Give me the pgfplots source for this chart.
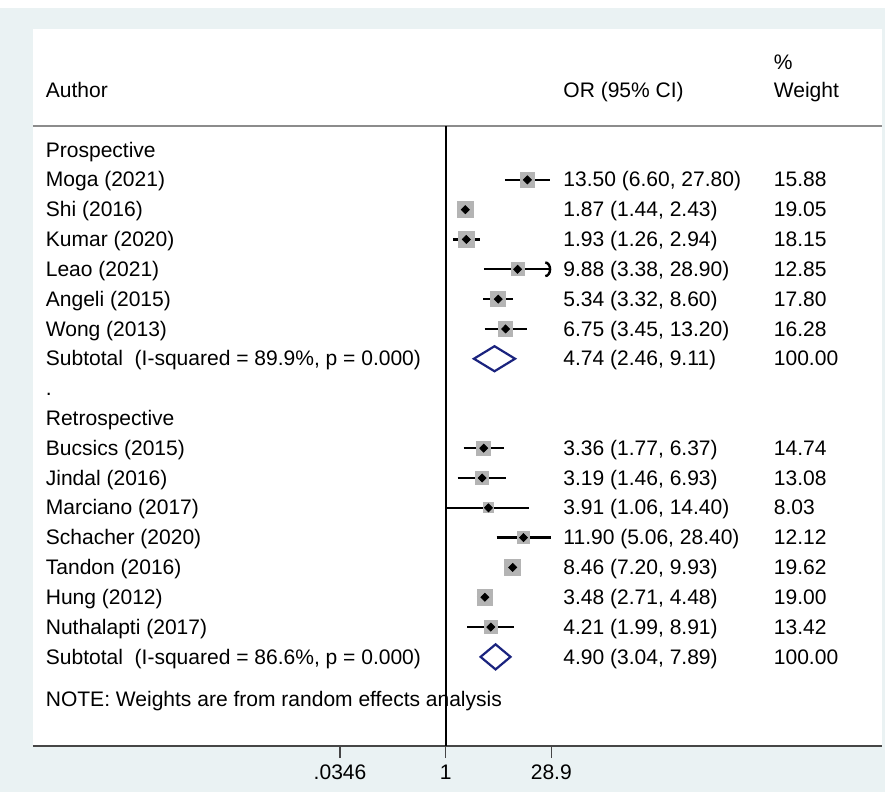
\documentclass[border=0pt]{standalone}
\usepackage{fontspec}
\setmainfont{Liberation Sans}
\usepackage{pgfplots}
\pgfplotsset{compat=1.18}
\usepackage{pgfplotstable}
\usetikzlibrary{arrows.meta}

\definecolor{stbg}{RGB}{234,242,243}
\definecolor{stnavy}{RGB}{26,35,126}
\definecolor{boxgray}{RGB}{180,180,180}
\definecolor{axgray}{RGB}{70,70,70}

% row = display line (top to bottom), or = odds ratio, lo/hi = 95% CI, w = % weight
\pgfplotstableread{
row or    lo   hi    w
2   13.50 6.60 27.80 15.88
3   1.87  1.44 2.43  19.05
4   1.93  1.26 2.94  18.15
5   9.88  3.38 28.90 12.85
6   5.34  3.32 8.60  17.80
7   6.75  3.45 13.20 16.28
}\prospective

\pgfplotstableread{
row or    lo   hi    w
11  3.36  1.77 6.37  14.74
12  3.19  1.46 6.93  13.08
13  3.91  1.06 14.40 8.03
14  11.90 5.06 28.40 12.12
15  8.46  7.20 9.93  19.62
16  3.48  2.71 4.48  19.00
17  4.21  1.99 8.91  13.42
}\retrospective

\newcommand\fpfont{\fontsize{10.55}{12}\selectfont}
\tikzset{
  txt/.style={anchor=west, inner sep=0pt, font=\fpfont, text height=.716em, text depth=0pt},
  ci/.style={black, line width=1.2bp},
}
% text columns: study label, OR (95% CI), weight
\newcommand\lab[2]{\node[txt] at ({rel axis cs:0.0147,0}|-{axis cs:1,-#1}) {#2};}
\newcommand\orci[2]{\node[txt] at ({rel axis cs:0.6243,0}|-{axis cs:1,-#1}) {#2};}
\newcommand\wt[2]{\node[txt] at ({rel axis cs:0.8722,0}|-{axis cs:1,-#1}) {#2};}

\begin{document}
\begin{tikzpicture}[x=1bp,y=1bp]
\useasboundingbox (0,0) rectangle (442.5,396);
\fill[stbg] (0,0) rectangle (442.5,396);
\fill[white] (0,392) rectangle (442.5,396);
\begin{axis}[
  at={(16.5bp,23bp)}, anchor=south west,
  scale only axis, width=424.5bp, height=358.5bp,
  axis background/.style={fill=white},
  xmode=log, xmin=1.96e-6, xmax=1.085e6,
  ymin=-20.99, ymax=3.06,
  axis x line=bottom, hide y axis,
  x axis line style={-, draw=axgray, line width=1bp},
  xtick={0.0346,1,28.9}, xticklabels={.0346,1,28.9},
  xminorticks=false,
  tick align=outside, major tick length=6bp,
  xtick style={draw=axgray, line width=0.7bp},
  xticklabel style={font=\fpfont, text height=.716em, text depth=0pt},
  clip=false,
]
% header and separator
\draw[black!45, line width=1bp] ({rel axis cs:0,0}|-{axis cs:1,-0.195}) -- ({rel axis cs:1,0}|-{axis cs:1,-0.195});
\wt{-1.95}{\%}
\lab{-1.01}{Author}
\orci{-1.01}{OR (95\% CI)}
\wt{-1.01}{Weight}

% null line at OR = 1
\addplot[black, line width=0.9bp] coordinates {(1,-0.195) (1,-20.99)};

% study boxes, area proportional to weight
\pgfplotsset{wbox/.style={scatter, only marks, mark=square*,
  scatter/use mapped color={draw=boxgray, fill=boxgray},
  visualization depends on={0.9*sqrt(\thisrow{w}) \as \msz},
  scatter/@pre marker code/.append style={/tikz/mark size=\msz}}}
\addplot[wbox] table[x=or, y expr=-\thisrow{row}] {\prospective};
\addplot[wbox] table[x=or, y expr=-\thisrow{row}] {\retrospective};

% confidence intervals
\addplot[ci] coordinates {(6.60,-2) (27.80,-2)};
\addplot[ci] coordinates {(1.44,-3) (2.43,-3)};
\addplot[ci] coordinates {(1.26,-4) (2.94,-4)};
\addplot[ci, -{Arc Barb[length=3bp, width=8bp]}] coordinates {(3.38,-5) (28.90,-5)};
\addplot[ci] coordinates {(3.32,-6) (8.60,-6)};
\addplot[ci] coordinates {(3.45,-7) (13.20,-7)};
\addplot[ci] coordinates {(1.77,-11) (6.37,-11)};
\addplot[ci] coordinates {(1.46,-12) (6.93,-12)};
\addplot[ci] coordinates {(1.06,-13) (14.40,-13)};
\addplot[ci] coordinates {(5.06,-14) (28.40,-14)};
\addplot[ci] coordinates {(7.20,-15) (9.93,-15)};
\addplot[ci] coordinates {(2.71,-16) (4.48,-16)};
\addplot[ci] coordinates {(1.99,-17) (8.91,-17)};

% point estimates
\pgfplotsset{est/.style={only marks, mark=diamond*, mark size=2pt, mark options={black, xscale=1.33}}}
\addplot[est] table[x=or, y expr=-\thisrow{row}] {\prospective};
\addplot[est] table[x=or, y expr=-\thisrow{row}] {\retrospective};

% pooled estimates
\addplot[stnavy, line width=1.1bp, line join=miter] coordinates {(2.46,-8) (4.74,-7.58) (9.11,-8) (4.74,-8.42)} -- cycle;
\addplot[stnavy, line width=1.1bp, line join=miter] coordinates {(3.04,-18) (4.90,-17.58) (7.89,-18) (4.90,-18.42)} -- cycle;

% text rows
\lab{1}{Prospective}
\lab{2}{Moga (2021)}      \orci{2}{13.50 (6.60, 27.80)} \wt{2}{15.88}
\lab{3}{Shi (2016)}       \orci{3}{1.87 (1.44, 2.43)}   \wt{3}{19.05}
\lab{4}{Kumar (2020)}     \orci{4}{1.93 (1.26, 2.94)}   \wt{4}{18.15}
\lab{5}{Leao (2021)}      \orci{5}{9.88 (3.38, 28.90)}  \wt{5}{12.85}
\lab{6}{Angeli (2015)}    \orci{6}{5.34 (3.32, 8.60)}   \wt{6}{17.80}
\lab{7}{Wong (2013)}      \orci{7}{6.75 (3.45, 13.20)}  \wt{7}{16.28}
\lab{8}{Subtotal\ \ (I-squared = 89.9\%, p = 0.000)} \orci{8}{4.74 (2.46, 9.11)} \wt{8}{100.00}
\lab{9}{.}
\lab{10}{Retrospective}
\lab{11}{Bucsics (2015)}     \orci{11}{3.36 (1.77, 6.37)}    \wt{11}{14.74}
\lab{12}{Jindal (2016)}      \orci{12}{3.19 (1.46, 6.93)}    \wt{12}{13.08}
\lab{13}{Marciano (2017)}    \orci{13}{3.91 (1.06, 14.40)}   \wt{13}{8.03}
\lab{14}{Schacher (2020)}    \orci{14}{11.90 (5.06, 28.40)}  \wt{14}{12.12}
\lab{15}{Tandon (2016)}      \orci{15}{8.46 (7.20, 9.93)}    \wt{15}{19.62}
\lab{16}{Hung (2012)}        \orci{16}{3.48 (2.71, 4.48)}    \wt{16}{19.00}
\lab{17}{Nuthalapti (2017)}  \orci{17}{4.21 (1.99, 8.91)}    \wt{17}{13.42}
\lab{18}{Subtotal\ \ (I-squared = 86.6\%, p = 0.000)} \orci{18}{4.90 (3.04, 7.89)} \wt{18}{100.00}
\lab{19.44}{NOTE: Weights are from random effects analysis}
\end{axis}
\end{tikzpicture}
\end{document}
